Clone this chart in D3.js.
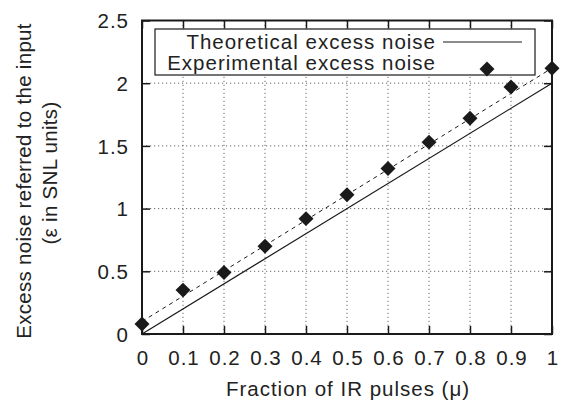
<!DOCTYPE html>
<html><head><meta charset="utf-8">
<script src="https://cdn.jsdelivr.net/npm/d3@7"></script>
<style>body{margin:0;background:#fff}svg{display:block}text{font-family:"Liberation Sans",Arial,sans-serif;fill:#222}</style>
</head><body><svg id="c" width="567" height="407"></svg>
<script>
const xTicks = [0,0.1,0.2,0.3,0.4,0.5,0.6,0.7,0.8,0.9,1];
const yTicks = [0,0.5,1,1.5,2,2.5];
const expX = [0,0.1,0.2,0.3,0.4,0.5,0.6,0.7,0.8,0.9,1];
const expY = [0.08,0.35,0.49,0.70,0.92,1.11,1.32,1.53,1.72,1.97,2.12];
const theoX = [0,1];
const theoY = [0,2];
const fitX = [0,1];
const fitY = [0.1,2.12];
const legendLabels = ["Theoretical excess noise","Experimental excess noise"];
const xLabel = "Fraction of IR pulses (\u03bc)";
const yLabel1 = "Excess noise referred to the input";
const yLabel2 = "(\u03b5 in SNL units)";

const svg = d3.select("#c");
const L=142,R=552,T=20.5,B=334;
const x = d3.scaleLinear().domain([0,1]).range([L,R]);
const y = d3.scaleLinear().domain([0,2.5]).range([B,T]);
const ink="#1a1a1a";
const FS="20.5px";

// grid
const g = svg.append("g");
g.selectAll(".gx").data(xTicks.slice(1,-1)).enter().append("line")
 .attr("x1",d=>x(d)).attr("x2",d=>x(d)).attr("y1",B).attr("y2",T)
 .attr("stroke","#666").attr("stroke-width",1).attr("stroke-dasharray","1.2,2.8");
g.selectAll(".gy").data(yTicks.slice(1,-1)).enter().append("line")
 .attr("y1",d=>y(d)).attr("y2",d=>y(d)).attr("x1",L).attr("x2",R)
 .attr("stroke","#666").attr("stroke-width",1).attr("stroke-dasharray","1.2,2.8");

// axes with inward ticks
const ax = (axis, tr) => svg.append("g").attr("transform",tr).call(axis)
  .call(s=>s.select(".domain").remove());
const bx = ax(d3.axisBottom(x).tickValues(xTicks).tickSize(-8).tickPadding(14).tickFormat(d3.format("")), `translate(0,${B})`);
const ly = ax(d3.axisLeft(y).tickValues(yTicks).tickSize(-8).tickPadding(14).tickFormat(d3.format("")), `translate(${L},0)`);
ax(d3.axisTop(x).tickValues(xTicks).tickSize(-8).tickFormat(""), `translate(0,${T})`);
ax(d3.axisRight(y).tickValues(yTicks).tickSize(-8).tickFormat(""), `translate(${R},0)`);
svg.selectAll(".tick line").attr("stroke",ink).attr("stroke-width",1.5);
svg.selectAll(".tick text").style("font-size",FS).attr("fill",ink)
 .style("font-family","Liberation Sans, Arial, sans-serif").style("letter-spacing","1px");
bx.selectAll(".tick text").attr("y",31).attr("dy",0).attr("dx","0.5");
ly.selectAll(".tick text").attr("x",-13).attr("dy","0.36em");

// lines
const line = d3.line().x(d=>x(d[0])).y(d=>y(d[1]));
svg.append("path").datum(fitX.map((v,i)=>[v,fitY[i]])).attr("d",line)
 .attr("fill","none").attr("stroke",ink).attr("stroke-width",1).attr("stroke-dasharray","4,4");
svg.append("path").datum(theoX.map((v,i)=>[v,theoY[i]])).attr("d",line)
 .attr("fill","none").attr("stroke",ink).attr("stroke-width",1.2);

// frame
svg.append("rect").attr("x",L).attr("y",T).attr("width",R-L).attr("height",B-T)
 .attr("fill","none").attr("stroke",ink).attr("stroke-width",2);

// legend
const lg = svg.append("g");
lg.append("rect").attr("x",155).attr("y",29).attr("width",380).attr("height",46)
 .attr("fill","#fff").attr("stroke",ink).attr("stroke-width",1.2);
lg.selectAll("text").data(legendLabels).enter().append("text")
 .attr("x",436).attr("y",(d,i)=>49+i*21).attr("text-anchor","end")
 .style("font-size",FS).style("letter-spacing","1px").text(d=>d);
lg.append("line").attr("x1",443).attr("x2",522).attr("y1",42).attr("y2",42)
 .attr("stroke",ink).attr("stroke-width",1.2);

// diamonds
const diamond = d3.symbol().type(d3.symbolSquare).size(112);
svg.selectAll(".pt").data(expX.map((v,i)=>[v,expY[i]])).enter().append("path")
 .attr("d",diamond).attr("transform",d=>`translate(${x(d[0])},${y(d[1])}) rotate(45)`)
 .attr("fill",ink);
lg.append("path").attr("d",diamond).attr("transform","translate(487,69) rotate(45)").attr("fill",ink);

// axis labels
svg.append("text").attr("x",348).attr("y",396).attr("text-anchor","middle")
 .style("font-size",FS).style("letter-spacing","1px").text(xLabel);
const yl = svg.append("text").attr("transform","rotate(-90)").attr("text-anchor","middle")
 .style("font-size",FS).style("letter-spacing","0.3px");
yl.append("tspan").attr("x",-181).attr("y",31).text(yLabel1);
yl.append("tspan").attr("x",-173).attr("y",57).text(yLabel2);
</script></body></html>
